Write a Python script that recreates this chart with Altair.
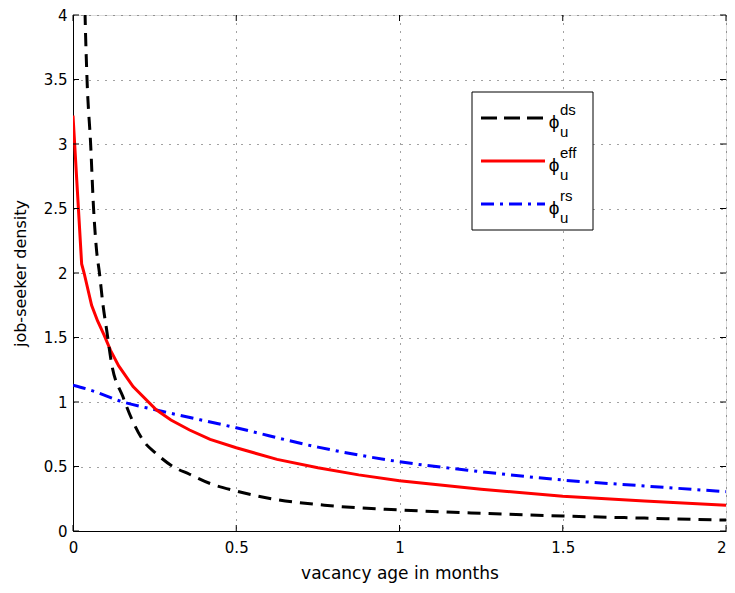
import altair as alt
import pandas as pd

# ---- data ----
ds_x = [0.030, 0.037, 0.043, 0.054, 0.063, 0.072, 0.081, 0.092, 0.103, 0.118, 0.153, 0.179, 0.214,
        0.255, 0.306, 0.357, 0.418, 0.500, 0.620, 0.770, 1.000, 1.250, 1.500, 1.750, 2.000]
ds_y = [5.0, 4.0, 3.5, 3.0, 2.5, 2.18, 2.0, 1.75, 1.56, 1.30, 1.04, 0.874, 0.705,
        0.60, 0.50, 0.44, 0.37, 0.31, 0.245, 0.20, 0.163, 0.137, 0.116, 0.100, 0.085]

eff_x = [0.0, 0.0265, 0.034, 0.057, 0.075, 0.095, 0.115, 0.140, 0.184, 0.255, 0.300, 0.357, 0.420,
         0.500, 0.625, 0.750, 0.875, 1.000, 1.250, 1.500, 1.750, 2.000]
eff_y = [3.22, 2.07, 2.00, 1.75, 1.63, 1.52, 1.40, 1.28, 1.12, 0.94, 0.86, 0.783, 0.71,
         0.645, 0.555, 0.49, 0.435, 0.39, 0.323, 0.27, 0.232, 0.20]

rs_x = [0.0, 0.052, 0.153, 0.255, 0.500, 0.750, 1.000, 1.250, 1.500, 1.750, 2.000]
rs_y = [1.13, 1.093, 1.00, 0.938, 0.80, 0.65, 0.537, 0.46, 0.395, 0.349, 0.305]

x_ticks = [0, 0.5, 1, 1.5, 2]
y_ticks = [0, 0.5, 1, 1.5, 2, 2.5, 3, 3.5, 4]

legend_sups = ["ds", "eff", "rs"]

W, H = 653, 516
FONT = "DejaVu Sans"

xs = alt.Scale(domain=[0, 2], nice=False, zero=False)
ys = alt.Scale(domain=[0, 4], nice=False, zero=False)

common = dict(grid=True, ticks=False, labelFontSize=15, labelFont=FONT, titleFont=FONT,
              titleFontWeight="normal", labelColor="black", titleColor="black",
              domainColor="black", gridDash=[1, 7], gridColor="#444444", gridWidth=1,
              labelFlush=False, labelExpr="datum.value")
x_axis = alt.Axis(values=x_ticks, title="vacancy age in months", labelPadding=9,
                  titlePadding=10, titleFontSize=17,
                  labelAlign={"condition": {"test": "datum.value == 2", "value": "right"}, "value": "center"},
                  **common)
y_axis = alt.Axis(values=y_ticks, title="job-seeker density", labelPadding=6,
                  titlePadding=15, titleFontSize=16, **common)

df_ds = pd.DataFrame({"x": ds_x, "y": ds_y})
df_eff = pd.DataFrame({"x": eff_x, "y": eff_y})
df_rs = pd.DataFrame({"x": rs_x, "y": rs_y})

base_axes = alt.Chart(pd.DataFrame({"x": [0], "y": [0]})).mark_point(opacity=0).encode(
    x=alt.X("x:Q", scale=xs, axis=x_axis),
    y=alt.Y("y:Q", scale=ys, axis=y_axis),
)

line_kw = dict(strokeWidth=3, clip=True, interpolate="monotone")
line_ds = alt.Chart(df_ds).mark_line(color="black", strokeDash=[13, 8], **line_kw).encode(
    x=alt.X("x:Q", scale=xs), y=alt.Y("y:Q", scale=ys), order="x:Q")
line_eff = alt.Chart(df_eff).mark_line(color="#ff0000", strokeWidth=3, clip=True, interpolate="linear").encode(
    x=alt.X("x:Q", scale=xs), y=alt.Y("y:Q", scale=ys), order="x:Q")
line_rs = alt.Chart(df_rs).mark_line(color="#0000ff", strokeDash=[13, 6, 3, 6], **line_kw).encode(
    x=alt.X("x:Q", scale=xs), y=alt.Y("y:Q", scale=ys), order="x:Q")

# inward ticks on all four sides
dxt = pd.DataFrame({"t": x_ticks})
dyt = pd.DataFrame({"t": y_ticks})
tick_style = dict(color="black", strokeWidth=1)
xt_bot = alt.Chart(dxt).mark_rule(**tick_style).encode(x=alt.X("t:Q", scale=xs), y=alt.value(H), y2=alt.value(H - 6))
xt_top = alt.Chart(dxt).mark_rule(**tick_style).encode(x=alt.X("t:Q", scale=xs), y=alt.value(0), y2=alt.value(6))
yt_left = alt.Chart(dyt).mark_rule(**tick_style).encode(y=alt.Y("t:Q", scale=ys), x=alt.value(0), x2=alt.value(6))
yt_right = alt.Chart(dyt).mark_rule(**tick_style).encode(y=alt.Y("t:Q", scale=ys), x=alt.value(W), x2=alt.value(W - 6))

# ---- legend ----
one = pd.DataFrame({"a": [0]})
lx0, lx1, ly0, ly1 = 399, 520, 77, 215
box = alt.Chart(one).mark_rect(fill="white", stroke="black", strokeWidth=1).encode(
    x=alt.value(lx0), x2=alt.value(lx1), y=alt.value(ly0), y2=alt.value(ly1))

legend_layers = [box]
styles = [dict(color="black", strokeDash=[16, 7]), dict(color="#ff0000"),
          dict(color="#0000ff", strokeDash=[13, 6, 3, 6])]
for i, sup in enumerate(legend_sups):
    yc = 103 + 43 * i
    legend_layers.append(alt.Chart(one).mark_rule(strokeWidth=3, **styles[i]).encode(
        x=alt.value(408), x2=alt.value(472), y=alt.value(yc)))
    legend_layers.append(alt.Chart(one).mark_text(text="ϕ", font="Liberation Sans", fontSize=19, align="center",
                                                  baseline="middle", color="black").encode(
        x=alt.value(481), y=alt.value(yc + 4)))
    legend_layers.append(alt.Chart(one).mark_text(text=sup, font="Liberation Sans", fontSize=15, align="left",
                                                  baseline="middle", color="black").encode(
        x=alt.value(487), y=alt.value(yc - 8)))
    legend_layers.append(alt.Chart(one).mark_text(text="u", font="Liberation Sans", fontSize=15, align="left",
                                                  baseline="middle", color="black").encode(
        x=alt.value(487), y=alt.value(yc + 14)))

chart = alt.layer(base_axes, line_rs, line_eff, line_ds, xt_bot, xt_top, yt_left, yt_right, *legend_layers).properties(
    width=W, height=H,
    padding={"left": 65, "top": 7, "right": 1, "bottom": 54},
    autosize=alt.AutoSizeParams(type="none"),
).configure_view(stroke="black", strokeWidth=1).configure(background="white")

chart.save("out.html", embed_options={"renderer": "svg", "actions": False})
